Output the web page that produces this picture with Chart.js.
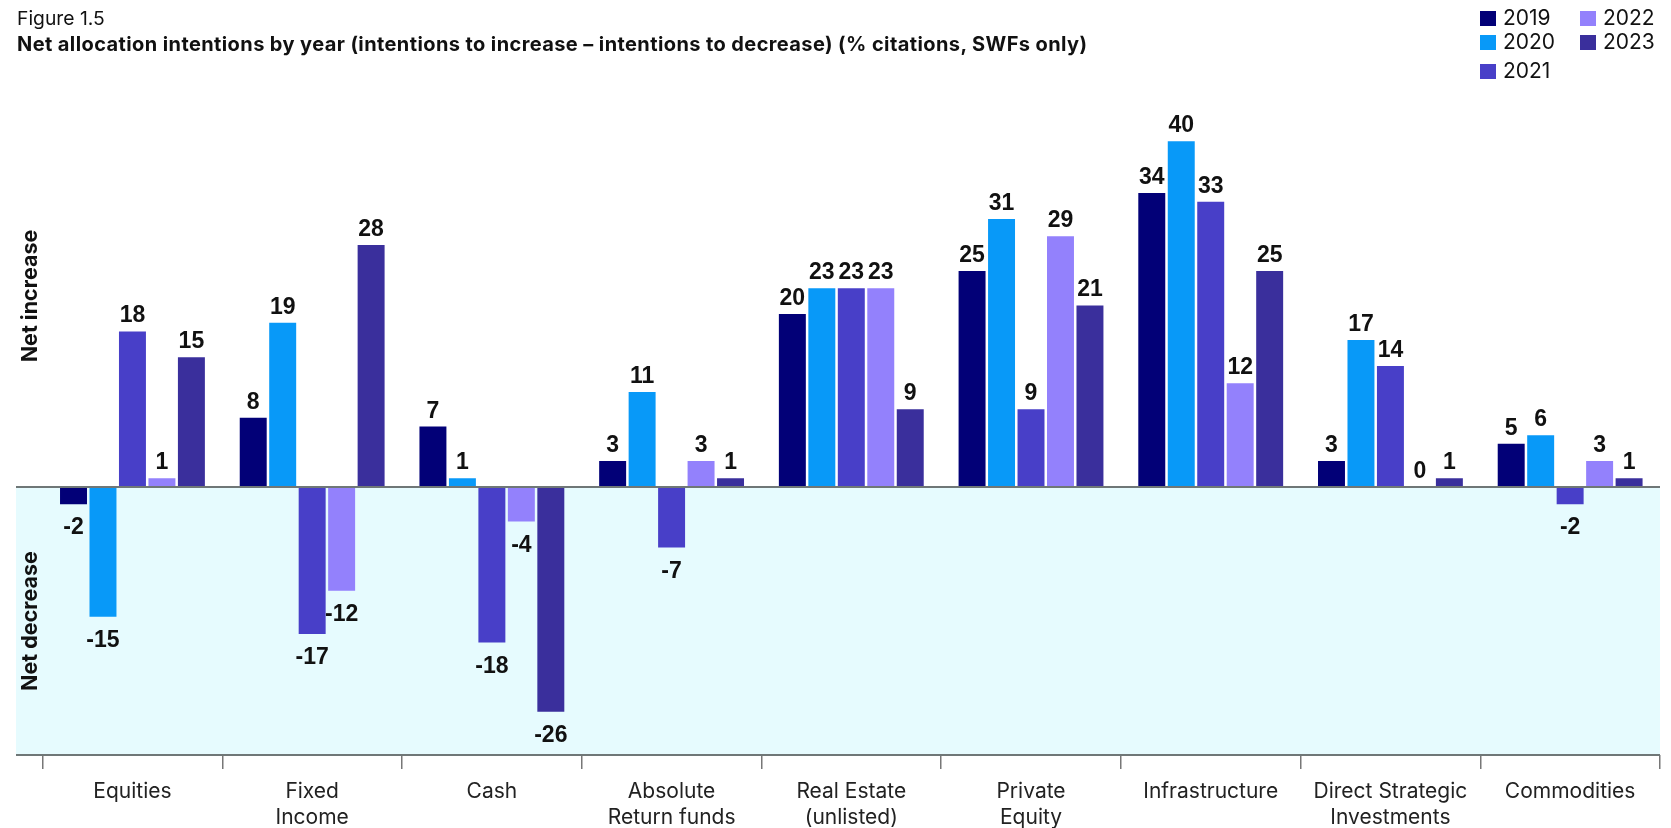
<!DOCTYPE html>
<html>
<head>
<meta charset="utf-8">
<script src="https://cdn.jsdelivr.net/npm/chart.js@4.4.1/dist/chart.umd.min.js"></script>
<style>
  html, body { margin: 0; padding: 0; background: #fff; }
  #wrap { position: relative; width: 1671px; height: 828px; overflow: hidden; font-family: "Inter", "Roboto", sans-serif; color: #111; }
  #chartBox { position: absolute; left: 0; top: 0; width: 1671px; height: 828px; }
  .fig { position: absolute; left: 17px; top: 6px; font-size: 19.3px; font-weight: 400; }
  .ttl { position: absolute; left: 17px; top: 32px; font-size: 20px; letter-spacing: 0.4px; font-weight: 700; white-space: nowrap; }
  .leg { position: absolute; font-size: 21px; line-height: 17px; white-space: nowrap; }
  .leg i { display: inline-block; width: 16px; height: 15px; vertical-align: -1px; margin-right: 7px; }
  .side { position: absolute; font-size: 21.5px; font-weight: 700; white-space: nowrap; transform: translate(-50%, -50%) rotate(-90deg); }
</style>
</head>
<body>
<div id="wrap">
  <div id="chartBox"><canvas id="c" width="1671" height="828"></canvas></div>
  <div class="fig">Figure 1.5</div>
  <div class="ttl">Net allocation intentions by year (intentions to increase – intentions to decrease) (% citations, SWFs only)</div>
  <div id="legend"></div>
  <div class="side" style="left:29px; top:296px;">Net increase</div>
  <div class="side" style="left:29px; top:621px;">Net decrease</div>
</div>
<script>
const categories = [
  ["Equities"], ["Fixed", "Income"], ["Cash"], ["Absolute", "Return funds"],
  ["Real Estate", "(unlisted)"], ["Private", "Equity"], ["Infrastructure"],
  ["Direct Strategic", "Investments"], ["Commodities"]
];
const years = ["2019", "2020", "2021", "2022", "2023"];
const values2019 = [-2, 8, 7, 3, 20, 25, 34, 3, 5];
const values2020 = [-15, 19, 1, 11, 23, 31, 40, 17, 6];
const values2021 = [18, -17, -18, -7, 23, 9, 33, 14, -2];
const values2022 = [1, -12, -4, 3, 23, 29, 12, 0, 3];
const values2023 = [15, 28, -26, 1, 9, 21, 25, 1, 1];
const colors = ["#020077", "#0899f8", "#483fc8", "#9381fc", "#3a2f9c"];
const yMin = -31, yMax = 45;

const seriesValues = [values2019, values2020, values2021, values2022, values2023];

// HTML legend (2 columns, column-major)
const legendPos = [[1480, 9], [1480, 33], [1480, 62], [1580, 9], [1580, 33]];
const legEl = document.getElementById('legend');
years.forEach((y, i) => {
  const d = document.createElement('div');
  d.className = 'leg';
  d.style.left = legendPos[i][0] + 'px';
  d.style.top = legendPos[i][1] + 'px';
  d.innerHTML = '<i style="background:' + colors[i] + '"></i>' + y;
  legEl.appendChild(d);
});

const bgPlugin = {
  id: 'bg',
  beforeDraw(chart) {
    const {ctx, chartArea, scales} = chart;
    const y0 = scales.y.getPixelForValue(0);
    const left = 16;
    ctx.save();
    ctx.fillStyle = '#e6fbfe';
    ctx.fillRect(left, y0, chartArea.right - left, chartArea.bottom - y0);
    ctx.restore();
  },
  afterDatasetsDraw(chart) {
    const {ctx, chartArea, scales} = chart;
    const y0 = scales.y.getPixelForValue(0);
    const left = 16;
    ctx.save();
    ctx.strokeStyle = '#6f7777';
    ctx.lineWidth = 2;
    ctx.beginPath();
    ctx.moveTo(left, y0); ctx.lineTo(chartArea.right, y0);
    ctx.moveTo(left, chartArea.bottom); ctx.lineTo(chartArea.right, chartArea.bottom);
    ctx.stroke();
    // value labels
    ctx.fillStyle = '#111';
    ctx.font = 'bold 23px "Liberation Sans", Arial, sans-serif';
    ctx.textAlign = 'center';
    ctx.textBaseline = 'alphabetic';
    chart.data.datasets.forEach((ds, di) => {
      const meta = chart.getDatasetMeta(di);
      meta.data.forEach((el, i) => {
        const v = ds.data[i];
        if (v >= 0) {
          ctx.fillText(String(v), el.x, el.y - 9);
        } else {
          ctx.fillText(String(v), el.x, el.y + 30);
        }
      });
    });
    ctx.restore();
  }
};

new Chart(document.getElementById('c'), {
  type: 'bar',
  data: {
    labels: categories,
    datasets: years.map((y, i) => ({
      label: y,
      data: seriesValues[i],
      backgroundColor: colors[i],
      borderWidth: 0,
      categoryPercentage: 0.82,
      barPercentage: 0.915
    }))
  },
  options: {
    responsive: false,
    animation: false,
    events: [],
    layout: { padding: { left: 42.6, right: 11, top: 98, bottom: 0 } },
    plugins: { legend: { display: false }, tooltip: { enabled: false } },
    scales: {
      x: {
        afterFit(scale) { scale.height = 73; },
        grid: { display: true, offset: true, drawOnChartArea: false, tickLength: 14, color: '#777', lineWidth: 1.5 },
        border: { display: false },
        ticks: {
          color: '#222',
          padding: 9,
          maxRotation: 0,
          autoSkip: false,
          font: { family: 'Inter, Roboto, sans-serif', size: 21, lineHeight: 1.27 }
        }
      },
      y: {
        display: false,
        min: yMin,
        max: yMax
      }
    }
  },
  plugins: [bgPlugin]
});
</script>
</body>
</html>
